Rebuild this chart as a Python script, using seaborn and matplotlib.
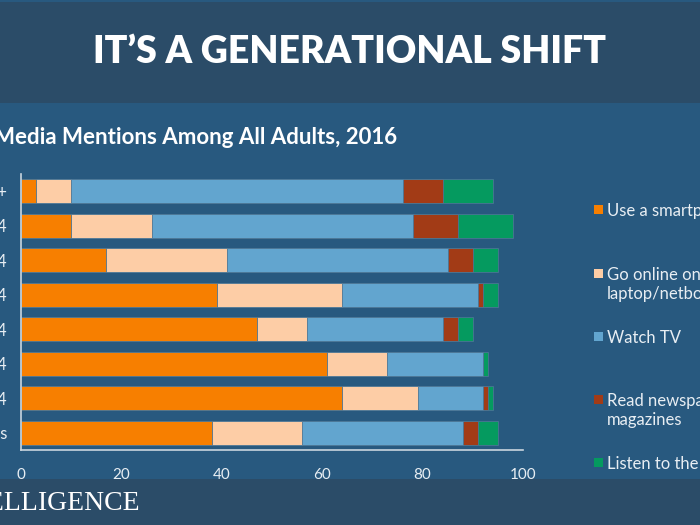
import numpy as np
import pandas as pd
import matplotlib
matplotlib.use("Agg")
import matplotlib.pyplot as plt
import seaborn as sns
from matplotlib.patches import Rectangle

# data (percent of adults, per age group)
groups = ["75+", "65-74", "55-64", "45-54", "35-44", "25-34", "16-24", "All adults"]
smartphone = [3, 10, 17, 39, 47, 61, 64, 38]
laptop = [7, 16, 24, 25, 10, 12, 15, 18]
watch_tv = [66, 52, 44, 27, 27, 19, 13, 32]
newspapers = [8, 9, 5, 1, 3, 0, 1, 3]
radio = [10, 11, 5, 3, 3, 1, 1, 4]

series_names = ["Use a smartphone", "Go online on a\nlaptop/netbook", "Watch TV",
                "Read newspapers/\nmagazines", "Listen to the radio"]
colors = ["#f77f00", "#fdcda6", "#62a5cf", "#a23b16", "#059a5f"]

BANNER = "#2b4c68"
BG = "#28597f"
TXT = "#e8eef3"

sns.set_style("white")
plt.rcParams["font.family"] = ["Lato", "DejaVu Sans"]

df = pd.DataFrame({"group": groups, "s0": smartphone, "s1": laptop, "s2": watch_tv,
                   "s3": newspapers, "s4": radio})
cols = ["s0", "s1", "s2", "s3", "s4"]
cum = df[cols].cumsum(axis=1)

fig = plt.figure(figsize=(7, 5.25), dpi=100, facecolor=BG)
ax = fig.add_axes([21 / 700, 1 - 450 / 525, 502 / 700, 276 / 525])
ax.set_facecolor(BG)

# draw cumulative totals back to front so each segment shows
for i in reversed(range(5)):
    sns.barplot(x=cum[cols[i]], y=df["group"], color=colors[i], orient="h",
                width=0.7, saturation=1, edgecolor="#4a7595", linewidth=0.6, ax=ax)

ax.set_xlim(0, 100)
ax.set_ylim(7.5, -0.5)
ax.set_xticks([0, 20, 40, 60, 80, 100])
ax.set_xlabel("")
ax.set_ylabel("")
for s in ["top", "right"]:
    ax.spines[s].set_visible(False)
for s in ["left", "bottom"]:
    ax.spines[s].set_color("#c9d5df")
    ax.spines[s].set_linewidth(1.2)
ax.tick_params(axis="x", colors="#c9d5df", labelcolor=TXT, labelsize=11,
               length=5, width=1, direction="out", pad=8)
ax.tick_params(axis="y", length=0, labelcolor=TXT, labelsize=12, pad=10)

# banner and footer bands
fig.patches.append(Rectangle((0, 1 - 103 / 525), 1, 101 / 525, transform=fig.transFigure,
                             facecolor=BANNER, linewidth=0, zorder=0))
fig.patches.append(Rectangle((0, 0), 1, 46 / 525, transform=fig.transFigure,
                             facecolor=BANNER, linewidth=0, zorder=0))

fig.text(0.5, 1 - 52 / 525, "IT\u2019S A GENERATIONAL SHIFT", ha="center", va="center",
         color="white", fontsize=27, fontweight="heavy")
fig.text(-6 / 700, 1 - 138 / 525, "Media Mentions Among All Adults, 2016", ha="left",
         va="center", color="white", fontsize=16, fontweight="bold")
fig.text(140 / 700, 1 - 503 / 525, "BI INTELLIGENCE", ha="right", va="center",
         color="white", fontsize=20, family="Liberation Serif")

# legend on the right, cut by the slide edge
leg_y = [210, 274, 337, 400, 463]
for name, c, y in zip(series_names, colors, leg_y):
    fig.patches.append(Rectangle((594 / 700, 1 - (y + 4) / 525), 9 / 700, 9 / 525,
                                 transform=fig.transFigure, facecolor=c, linewidth=0,
                                 zorder=3))
    fig.text(607 / 700, 1 - (y - 7) / 525, name, ha="left", va="top", color=TXT,
             fontsize=12, linespacing=1.25)

fig.savefig("out.png", dpi=100, facecolor=fig.get_facecolor())
